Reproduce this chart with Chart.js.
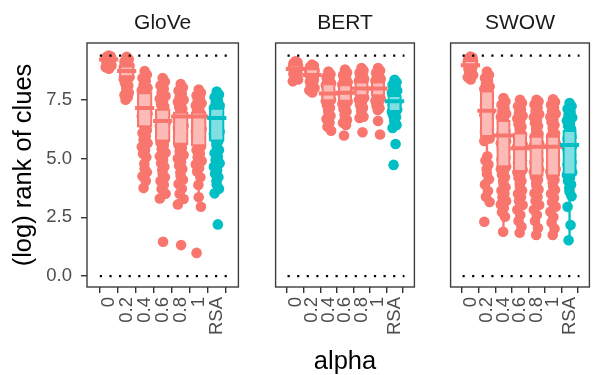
<!DOCTYPE html>
<html lang="en">
<head>
<meta charset="UTF-8">
<title>(log) rank of clues by alpha</title>
<script src="https://cdn.jsdelivr.net/npm/chart.js"></script>
<style>
  body { margin: 0; background: #fff; }
  .wrap { position: relative; width: 603px; height: 375px; overflow: hidden; }
  canvas { position: absolute; top: 0; }
  #glove { left: 0; }
  #bert { left: 262px; }
  #swow { left: 437px; }
</style>
</head>
<body>
<div class="wrap">
  <canvas id="glove" width="252" height="375"></canvas>
  <canvas id="bert" width="166" height="375"></canvas>
  <canvas id="swow" width="166" height="375"></canvas>
</div>
<script>
// categories and axis
const ALPHA = ['0', '0.2', '0.4', '0.6', '0.8', '1', 'RSA'];
const MODELS = ['GloVe', 'BERT', 'SWOW'];
const Y_TICKS = [0, 2.5, 5, 7.5];
const REF_LINES = [0, 9.37];

// GloVe: box stats + points
const GLOVE_Q1  = [9.18, 8.45, 6.32, 5.72, 5.58, 5.51, 5.72];
const GLOVE_MED = [9.21, 8.72, 7.15, 6.60, 6.79, 6.79, 6.72];
const GLOVE_Q3  = [9.24, 8.96, 7.83, 7.12, 7.00, 7.00, 7.17];
const GLOVE_LO  = [8.82, 7.50, 3.75, 3.30, 3.05, 3.35, 3.52];
const GLOVE_HI  = [9.38, 9.32, 8.72, 8.42, 8.17, 7.93, 7.85];
const GLOVE_PTS = [
  [9.38, 9.34, 9.31, 9.28, 9.26, 9.24, 9.22, 9.2, 9.18, 9.16, 9.14, 9.12, 9.1, 9.07, 9.04, 9.0, 8.95, 8.88, 8.82],
  [9.32, 9.22, 9.12, 9.04, 8.98, 8.93, 8.88, 8.83, 8.78, 8.74, 8.7, 8.66, 8.62, 8.58, 8.54, 8.5, 8.45, 8.38, 8.3, 8.2, 8.1, 8.0, 7.9, 7.8, 7.7, 7.6, 7.5],
  [8.72, 8.56, 8.42, 8.28, 8.14, 8.0, 7.9, 7.8, 7.7, 7.6, 7.5, 7.4, 7.3, 7.2, 7.1, 7.0, 6.9, 6.8, 6.7, 6.6, 6.5, 6.4, 6.3, 6.2, 6.08, 5.95, 5.8, 5.65, 5.5, 5.35, 5.2, 5.05, 4.78, 4.58, 4.42, 4.25, 4.05, 3.75],
  [8.42, 8.26, 8.1, 7.95, 7.8, 7.66, 7.54, 7.42, 7.3, 7.2, 7.1, 7.0, 6.9, 6.8, 6.7, 6.6, 6.5, 6.4, 6.3, 6.2, 6.1, 6.0, 5.9, 5.8, 5.68, 5.55, 5.4, 5.25, 5.1, 4.95, 4.8, 4.65, 4.5, 4.35, 4.2, 4.05, 3.88, 3.7, 3.5, 3.3, 1.46],
  [8.17, 8.02, 7.88, 7.75, 7.62, 7.5, 7.4, 7.3, 7.2, 7.1, 7.0, 6.9, 6.8, 6.7, 6.6, 6.5, 6.4, 6.3, 6.2, 6.1, 6.0, 5.9, 5.8, 5.7, 5.58, 5.45, 5.3, 5.15, 5.0, 4.85, 4.7, 4.55, 4.4, 4.25, 4.1, 3.92, 3.72, 3.5, 3.28, 3.05, 1.32],
  [7.93, 7.8, 7.68, 7.56, 7.45, 7.35, 7.25, 7.15, 7.05, 6.95, 6.85, 6.75, 6.65, 6.55, 6.45, 6.35, 6.25, 6.15, 6.05, 5.95, 5.85, 5.75, 5.62, 5.5, 5.36, 5.2, 5.05, 4.9, 4.75, 4.6, 4.45, 4.2, 3.88, 3.35, 2.95, 0.99],
  [7.85, 7.72, 7.6, 7.48, 7.36, 7.25, 7.15, 7.05, 6.95, 6.85, 6.75, 6.65, 6.55, 6.45, 6.35, 6.25, 6.15, 6.05, 5.95, 5.85, 5.75, 5.62, 5.5, 5.36, 5.22, 5.08, 4.94, 4.8, 4.65, 4.5, 4.35, 4.2, 4.05, 3.9, 3.72, 3.52, 2.2]
];

// BERT
const BERT_Q1  = [8.64, 8.42, 7.43, 7.40, 7.64, 7.64, 6.97];
const BERT_MED = [8.80, 8.55, 7.76, 7.80, 7.98, 7.98, 7.43];
const BERT_Q3  = [8.99, 8.85, 8.21, 8.17, 8.28, 8.28, 7.71];
const BERT_LO  = [8.28, 7.81, 6.18, 6.43, 6.72, 7.06, 6.30];
const BERT_HI  = [9.13, 8.99, 8.70, 8.78, 8.85, 8.85, 8.35];
const BERT_PTS = [
  [9.13, 9.09, 9.05, 9.01, 8.97, 8.93, 8.89, 8.85, 8.81, 8.77, 8.73, 8.69, 8.64, 8.58, 8.51, 8.44, 8.36, 8.28],
  [8.99, 8.94, 8.89, 8.84, 8.79, 8.74, 8.69, 8.64, 8.59, 8.54, 8.48, 8.42, 8.35, 8.27, 8.19, 8.1, 8.0, 7.9, 7.81],
  [8.7, 8.58, 8.47, 8.37, 8.28, 8.2, 8.12, 8.05, 7.98, 7.92, 7.86, 7.8, 7.74, 7.68, 7.62, 7.56, 7.5, 7.43, 7.35, 7.26, 7.16, 7.05, 6.94, 6.82, 6.68, 6.52, 6.35, 6.18],
  [8.78, 8.66, 8.54, 8.43, 8.33, 8.24, 8.15, 8.07, 7.99, 7.92, 7.85, 7.78, 7.71, 7.64, 7.57, 7.5, 7.42, 7.33, 7.23, 7.12, 7.0, 6.88, 6.76, 6.64, 6.52, 6.43, 5.98],
  [8.85, 8.74, 8.64, 8.55, 8.46, 8.38, 8.3, 8.23, 8.16, 8.09, 8.02, 7.95, 7.88, 7.81, 7.74, 7.66, 7.58, 7.49, 7.39, 7.28, 7.16, 7.03, 6.9, 6.78, 6.72, 6.12],
  [8.85, 8.74, 8.64, 8.55, 8.46, 8.38, 8.3, 8.23, 8.16, 8.09, 8.02, 7.95, 7.88, 7.8, 7.72, 7.64, 7.55, 7.45, 7.35, 7.24, 7.14, 7.06, 6.6, 6.02],
  [8.35, 8.24, 8.14, 8.05, 7.96, 7.88, 7.8, 7.72, 7.64, 7.57, 7.5, 7.43, 7.36, 7.29, 7.22, 7.15, 7.08, 7.0, 6.92, 6.84, 6.76, 6.66, 6.55, 6.43, 6.3, 5.62, 4.73]
];

// SWOW
const SWOW_Q1  = [8.85, 5.91, 4.62, 4.42, 4.23, 4.23, 4.27];
const SWOW_MED = [8.96, 7.03, 5.98, 5.44, 5.50, 5.50, 5.58];
const SWOW_Q3  = [9.20, 7.90, 6.65, 6.11, 5.98, 5.98, 6.22];
const SWOW_LO  = [8.36, 3.15, 1.89, 1.85, 1.75, 1.75, 1.53];
const SWOW_HI  = [9.33, 8.70, 7.57, 7.50, 7.50, 7.52, 7.36];
const SWOW_PTS = [
  [9.33, 9.29, 9.25, 9.21, 9.18, 9.15, 9.12, 9.09, 9.06, 9.02, 8.98, 8.94, 8.89, 8.82, 8.74, 8.65, 8.55, 8.45, 8.36],
  [8.7, 8.55, 8.42, 8.3, 8.18, 8.06, 7.95, 7.85, 7.75, 7.65, 7.55, 7.45, 7.35, 7.25, 7.15, 7.05, 6.95, 6.85, 6.75, 6.65, 6.55, 6.45, 6.35, 6.25, 6.15, 6.05, 5.95, 5.85, 5.75, 5.1, 4.92, 4.75, 4.55, 4.35, 4.12, 3.9, 3.62, 3.38, 3.15, 2.31],
  [7.57, 7.42, 7.28, 7.15, 7.02, 6.9, 6.78, 6.66, 6.55, 6.45, 6.35, 6.25, 6.15, 6.05, 5.95, 5.85, 5.75, 5.65, 5.55, 5.45, 5.35, 5.25, 5.15, 5.05, 4.95, 4.85, 4.75, 4.65, 4.55, 4.45, 4.32, 4.2, 4.06, 3.92, 3.78, 3.64, 3.5, 3.35, 3.2, 3.05, 2.9, 2.72, 2.53, 1.89],
  [7.5, 7.36, 7.22, 7.08, 6.95, 6.82, 6.7, 6.58, 6.46, 6.35, 6.24, 6.13, 6.02, 5.92, 5.82, 5.72, 5.62, 5.52, 5.42, 5.32, 5.22, 5.12, 5.02, 4.92, 4.82, 4.72, 4.62, 4.52, 4.42, 4.3, 4.18, 4.05, 3.92, 3.78, 3.64, 3.5, 3.35, 3.2, 3.02, 2.82, 2.6, 2.35, 2.1, 1.85],
  [7.5, 7.42, 7.3, 7.16, 7.02, 6.88, 6.75, 6.62, 6.5, 6.38, 6.26, 6.15, 6.04, 5.94, 5.84, 5.74, 5.64, 5.54, 5.44, 5.34, 5.24, 5.14, 5.04, 4.94, 4.84, 4.74, 4.64, 4.54, 4.44, 4.34, 4.22, 4.1, 3.96, 3.82, 3.68, 3.52, 3.36, 3.2, 3.02, 2.82, 2.6, 2.35, 2.05, 1.75],
  [7.52, 7.4, 7.28, 7.15, 7.02, 6.9, 6.78, 6.66, 6.54, 6.42, 6.3, 6.18, 6.06, 5.95, 5.85, 5.75, 5.65, 5.55, 5.45, 5.35, 5.25, 5.15, 5.05, 4.95, 4.85, 4.75, 4.65, 4.55, 4.45, 4.34, 4.22, 4.1, 3.96, 3.82, 3.66, 3.5, 3.32, 3.14, 2.95, 2.74, 2.52, 2.28, 2.02, 1.75],
  [7.36, 7.22, 7.1, 6.98, 6.86, 6.74, 6.62, 6.5, 6.38, 6.27, 6.16, 6.05, 5.94, 5.84, 5.74, 5.64, 5.54, 5.44, 5.34, 5.24, 5.14, 5.04, 4.94, 4.84, 4.74, 4.64, 4.54, 4.42, 4.3, 4.18, 4.04, 3.9, 3.75, 3.6, 3.4, 2.95, 2.17, 1.53]
];

// look
const SALMON = '#F8766D';
const TEAL = '#00BFC4';
const X_MIN = -0.6, X_MAX = 6.6;
const Y_MIN = -0.46, Y_MAX = 9.91;
const JITTER = [0, 0.12, -0.12, 0.06, -0.06, 0.16, -0.16, 0.02, -0.09, 0.09, -0.02];
const FONT = "'Liberation Sans', Arial, sans-serif";
Chart.defaults.font.family = FONT;

const colorOf = i => ALPHA[i] === 'RSA' ? TEAL : SALMON;
const catColors = ALPHA.map((_, i) => colorOf(i));

// outline around each facet, like ggplot's panel border
const panelBorder = {
  id: 'panelBorder',
  afterDatasetsDraw(chart) {
    const a = chart.chartArea, ctx = chart.ctx;
    ctx.save();
    ctx.strokeStyle = '#3d3d3d';
    ctx.lineWidth = 1.4;
    ctx.strokeRect(a.left, a.top, a.right - a.left, a.bottom - a.top);
    ctx.restore();
  }
};

function makePanel(id, title, pts, q1, med, q3, lo, hi, cfg) {
  const pointData = [];
  const pointColors = [];
  pts.forEach((vals, i) => vals.forEach((v, j) => {
    pointData.push({x: i + JITTER[j % JITTER.length], y: v});
    pointColors.push(colorOf(i));
  }));

  const datasets = [
    {
      type: 'scatter',
      data: pointData,
      pointRadius: 5.3,
      pointHoverRadius: 5.3,
      pointBorderWidth: 0,
      pointBackgroundColor: pointColors,
      order: 4
    },
    {
      type: 'bar',
      data: ALPHA.map((_, i) => ({x: i, y: [lo[i], hi[i]]})),
      backgroundColor: catColors,
      barThickness: 1.7,
      grouped: false,
      order: 3
    },
    {
      type: 'bar',
      data: ALPHA.map((_, i) => ({x: i, y: [q1[i], q3[i]]})),
      backgroundColor: 'rgba(255,255,255,0.5)',
      borderColor: catColors,
      borderWidth: 2.2,
      borderSkipped: false,
      grouped: false,
      categoryPercentage: 1,
      barPercentage: 0.86,
      order: 2
    },
    {
      type: 'scatter',
      data: med.map((v, i) => ({x: i, y: v})),
      pointStyle: 'line',
      pointRadius: 9.6,
      pointHoverRadius: 9.6,
      pointBorderWidth: 4,
      pointBorderColor: catColors,
      order: 1
    }
  ];
  REF_LINES.forEach(v => datasets.push({
    type: 'line',
    data: [{x: X_MIN, y: v}, {x: X_MAX, y: v}],
    borderColor: '#000',
    borderWidth: 2.2,
    borderDash: [2.2, 7.4],
    borderDashOffset: -2,
    pointRadius: 0,
    order: 0
  }));

  const tickGrid = {drawOnChartArea: false, drawTicks: true, tickLength: 6, color: '#333', lineWidth: 1.4};

  new Chart(document.getElementById(id), {
    type: 'scatter',
    data: {datasets},
    options: {
      responsive: false,
      animation: false,
      events: [],
      layout: {padding: {left: cfg.padLeft, right: cfg.padRight, top: 0, bottom: 0}},
      plugins: {
        legend: {display: false},
        tooltip: {enabled: false},
        title: {
          display: true,
          text: title,
          fullSize: false,
          color: '#1a1a1a',
          font: {size: 21, weight: 'normal'},
          padding: {top: 10.8, bottom: 7}
        }
      },
      scales: {
        x: {
          type: 'linear',
          min: X_MIN,
          max: X_MAX,
          afterBuildTicks: s => { s.ticks = ALPHA.map((_, i) => ({value: i})); },
          afterFit: s => { s.height = 88; },
          ticks: {
            autoSkip: false, minRotation: 90, maxRotation: 90, padding: 4,
            color: '#4d4d4d', font: {size: 18.5},
            callback: v => ALPHA[v]
          },
          grid: tickGrid,
          border: {display: false},
          title: {
            display: cfg.xTitle, text: 'alpha', color: '#000',
            font: {size: 25.5, lineHeight: 1}, padding: {top: 0, bottom: 0}
          }
        },
        y: {
          type: 'linear',
          min: Y_MIN,
          max: Y_MAX,
          display: cfg.yAxis,
          afterBuildTicks: s => { s.ticks = Y_TICKS.map(v => ({value: v})); },
          afterFit: s => { s.width = cfg.yAxis ? 87 : 0; },
          ticks: {
            padding: 9, color: '#4d4d4d', font: {size: 18.5},
            callback: v => v.toFixed(1)
          },
          grid: tickGrid,
          border: {display: false},
          title: {
            display: true, text: '(log) rank of clues', color: '#000',
            font: {size: 25.5, lineHeight: 1}, padding: {top: 11, bottom: 0}
          }
        }
      }
    },
    plugins: [panelBorder]
  });
}

makePanel('glove', MODELS[0], GLOVE_PTS, GLOVE_Q1, GLOVE_MED, GLOVE_Q3, GLOVE_LO, GLOVE_HI,
  {yAxis: true, xTitle: false, padLeft: 0, padRight: 2});
makePanel('bert', MODELS[1], BERT_PTS, BERT_Q1, BERT_MED, BERT_Q3, BERT_LO, BERT_HI,
  {yAxis: false, xTitle: true, padLeft: 2, padRight: 2});
makePanel('swow', MODELS[2], SWOW_PTS, SWOW_Q1, SWOW_MED, SWOW_Q3, SWOW_LO, SWOW_HI,
  {yAxis: false, xTitle: false, padLeft: 2.5, padRight: 1.5});
</script>
</body>
</html>
